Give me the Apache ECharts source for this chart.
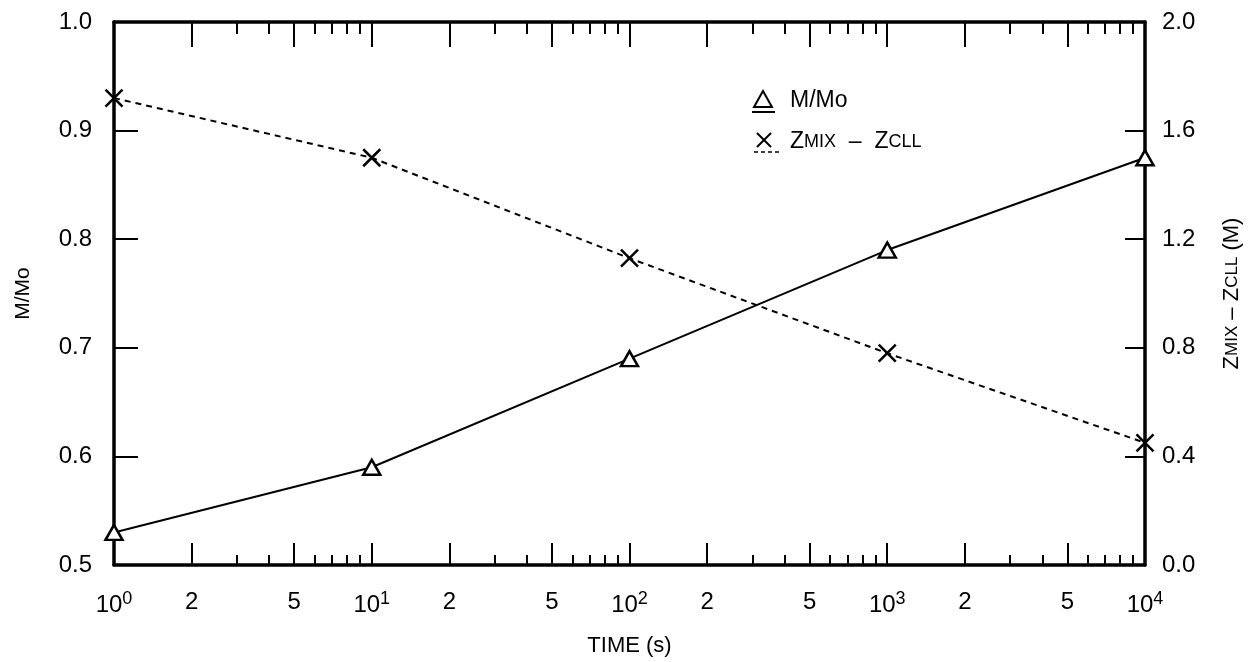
<!DOCTYPE html>
<html>
<head>
<meta charset="utf-8">
<script src="https://cdn.jsdelivr.net/npm/echarts@6/dist/echarts.min.js"></script>
<style>
  html, body { margin: 0; padding: 0; background: #fff; }
  #main { width: 1252px; height: 662px; }
</style>
</head>
<body>
<div id="main"></div>
<script>
// data
const times = [1, 10, 100, 1000, 10000];
const massRatio = [0.53, 0.59, 0.69, 0.79, 0.875];
const zDiff = [1.72, 1.50, 1.13, 0.78, 0.45];

// tick positions on the log axis
const longTicks = [1, 2, 5, 10, 20, 50, 100, 200, 500, 1000, 2000, 5000, 10000];
const shortTicks = [3, 4, 6, 7, 8, 9, 30, 40, 60, 70, 80, 90, 300, 400, 600, 700, 800, 900, 3000, 4000, 6000, 7000, 8000, 9000];

const myChart = echarts.init(document.getElementById('main'));
const font = 'Liberation Sans, Arial, sans-serif';
const weight = 'normal';
const crossPath = 'path://M0,0L10,10M10,0L0,10';

const supMap = { 1: '0', 10: '1', 100: '2', 1000: '3', 10000: '4' };

function logAxis(pos, ticks, len, showLabel, showLine) {
    return {
        type: 'log',
        logBase: 10,
        position: pos,
        min: 1,
        max: 10000,
        axisLine: { show: showLine, lineStyle: { color: '#000', width: 3.5 } },
        splitLine: { show: false },
        minorTick: { show: false },
        axisTick: {
            show: true,
            inside: true,
            length: len,
            customValues: ticks,
            lineStyle: { color: '#000', width: 2 }
        },
        axisLabel: {
            show: showLabel,
            customValues: longTicks,
            margin: 25,
            color: '#000',
            fontFamily: font,
            fontWeight: weight,
            fontSize: 24,
            formatter: function (v) {
                const r = Math.round(v);
                if (supMap[r] !== undefined) return '10{sup|' + supMap[r] + '}';
                return String(Math.round(v / Math.pow(10, Math.floor(Math.log10(v) + 1e-9))));
            },
            rich: {
                sup: { fontSize: 18, fontWeight: weight, verticalAlign: 'top', padding: [0, 0, 12, 0], fontFamily: font, color: '#000' }
            }
        }
    };
}

const xBottom = logAxis('bottom', longTicks, 22, true, true);
xBottom.name = 'TIME (s)';
xBottom.nameLocation = 'middle';
xBottom.nameGap = 70;
xBottom.nameTextStyle = { color: '#000', fontFamily: font, fontWeight: weight, fontSize: 22 };

option = {
    animation: false,
    backgroundColor: '#fff',
    grid: { left: 114, right: 107, top: 22, bottom: 96 },
    xAxis: [
        xBottom,
        logAxis('bottom', shortTicks, 10, false, false),
        logAxis('top', longTicks, 25, false, true),
        logAxis('top', shortTicks, 12, false, false)
    ],
    yAxis: [
        {
            type: 'value',
            position: 'left',
            min: 0.5,
            max: 1.0,
            interval: 0.1,
            name: 'M/Mo',
            nameLocation: 'middle',
            nameGap: 80,
            nameRotate: 90,
            nameTextStyle: { color: '#000', fontFamily: font, fontWeight: weight, fontSize: 21 },
            axisLine: { show: true, lineStyle: { color: '#000', width: 3.5 } },
            axisTick: { show: true, inside: true, length: 24, lineStyle: { color: '#000', width: 2 } },
            splitLine: { show: false },
            axisLabel: {
                color: '#000', fontFamily: font, fontWeight: weight, fontSize: 24, margin: 22,
                formatter: function (v) { return v.toFixed(1); }
            }
        },
        {
            type: 'value',
            position: 'right',
            min: 0,
            max: 2.0,
            interval: 0.4,
            name: 'Z{s|MIX} – Z{s|CLL} (M)',
            nameLocation: 'middle',
            nameGap: 76,
            nameRotate: 90,
            nameTextStyle: {
                color: '#000', fontFamily: font, fontWeight: weight, fontSize: 22,
                rich: { s: { fontSize: 17, fontWeight: weight, color: '#000', fontFamily: font } }
            },
            axisLine: { show: true, lineStyle: { color: '#000', width: 3.5 } },
            axisTick: { show: true, inside: true, length: 20, lineStyle: { color: '#000', width: 2 } },
            splitLine: { show: false },
            axisLabel: {
                color: '#000', fontFamily: font, fontWeight: weight, fontSize: 24, margin: 17,
                formatter: function (v) { return v.toFixed(1); }
            }
        }
    ],
    series: [
        {
            name: 'M/Mo',
            type: 'line',
            xAxisIndex: 0,
            yAxisIndex: 0,
            data: times.map((t, i) => [t, massRatio[i]]),
            symbol: 'triangle',
            symbolSize: [17, 15],
            showAllSymbol: true,
            lineStyle: { color: '#000', width: 2 },
            itemStyle: { color: '#fff', borderColor: '#000', borderWidth: 2.5 },
            z: 3
        },
        {
            name: 'ZMIX - ZCLL',
            type: 'line',
            xAxisIndex: 0,
            yAxisIndex: 1,
            data: times.map((t, i) => [t, zDiff[i]]),
            symbol: crossPath,
            symbolSize: 17,
            showAllSymbol: true,
            lineStyle: { color: '#000', width: 2, type: [6, 5] },
            itemStyle: { color: 'none', borderColor: '#000', borderWidth: 2.5 },
            z: 3
        }
    ],
    graphic: [
        { type: 'polygon', shape: { points: [[763, 91], [754, 107], [772, 107]] }, style: { fill: 'none', stroke: '#000', lineWidth: 2 } },
        { type: 'line', shape: { x1: 752, y1: 112, x2: 775, y2: 112 }, style: { stroke: '#000', lineWidth: 2 } },
        { type: 'text', x: 790, y: 101, style: { text: 'M/Mo', font: '23px ' + font, fill: '#000', verticalAlign: 'middle' } },
        { type: 'line', shape: { x1: 757, y1: 133, x2: 771, y2: 147 }, style: { stroke: '#000', lineWidth: 2 } },
        { type: 'line', shape: { x1: 771, y1: 133, x2: 757, y2: 147 }, style: { stroke: '#000', lineWidth: 2 } },
        { type: 'line', shape: { x1: 754, y1: 152, x2: 781, y2: 152 }, style: { stroke: '#000', lineWidth: 1.5, lineDash: [4, 3] } },
        {
            type: 'text', x: 790, y: 142,
            style: {
                text: 'Z{s|MIX}  –  Z{s|CLL}',
                font: '23px ' + font, fill: '#000', verticalAlign: 'middle',
                rich: { s: { fontSize: 18, fontFamily: font, fill: '#000' } }
            }
        }
    ]
};

myChart.setOption(option);
</script>
</body>
</html>
